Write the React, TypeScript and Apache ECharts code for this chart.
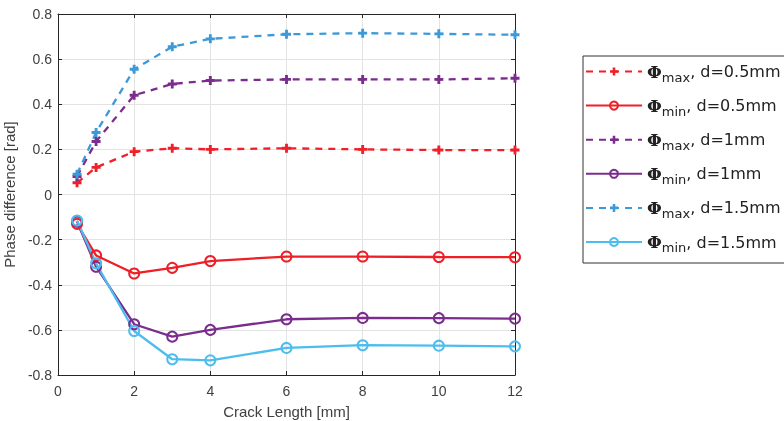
import React, { useEffect, useRef } from "react";
import * as echarts from "echarts";

const crackLength = [0.5, 1, 2, 3, 4, 6, 8, 10, 12];
const maxD05 = [0.052, 0.12, 0.19, 0.205, 0.2, 0.205, 0.2, 0.197, 0.197];
const minD05 = [-0.13, -0.27, -0.35, -0.325, -0.295, -0.275, -0.275, -0.277, -0.278];
const maxD1 = [0.08, 0.235, 0.44, 0.49, 0.505, 0.51, 0.51, 0.51, 0.515];
const minD1 = [-0.12, -0.32, -0.575, -0.63, -0.6, -0.553, -0.547, -0.548, -0.55];
const maxD15 = [0.09, 0.275, 0.555, 0.655, 0.69, 0.71, 0.715, 0.712, 0.708];
const minD15 = [-0.115, -0.305, -0.605, -0.73, -0.735, -0.68, -0.668, -0.67, -0.673];

const seriesNames = [
  "max|d=0.5mm",
  "min|d=0.5mm",
  "max|d=1mm",
  "min|d=1mm",
  "max|d=1.5mm",
  "min|d=1.5mm",
];
const seriesValues = [maxD05, minD05, maxD1, minD1, maxD15, minD15];
const seriesColors = ["#f0202a", "#ee1f26", "#7b2d8e", "#7b2d8e", "#3d9ad9", "#4dbdee"];

const PLUS = "path://M3.4,0H6.6V3.4H10V6.6H6.6V10H3.4V6.6H0V3.4H3.4Z";
const FONT = "'Liberation Sans', Arial, sans-serif";

export default function App() {
  const ref = useRef<HTMLDivElement>(null);
  useEffect(() => {
    if (!ref.current) return;
    const chart = echarts.init(ref.current, null, { renderer: "svg" });
    const series = seriesNames.map((name, i) => {
      const isMax = i % 2 === 0;
      return {
        name,
        type: "line",
        data: crackLength.map((x, j) => [x, seriesValues[i][j]]),
        symbol: isMax ? PLUS : "circle",
        symbolSize: isMax ? 9 : 10,
        showAllSymbol: true,
        lineStyle: { color: seriesColors[i], width: 2.3, type: isMax ? [7, 6] : "solid" },
        itemStyle: isMax
          ? { color: seriesColors[i] }
          : { color: "rgba(255,255,255,0)", borderColor: seriesColors[i], borderWidth: 2 },
        emphasis: { disabled: true },
      };
    });
    const axisCommon = {
      axisLine: { show: true, onZero: false, lineStyle: { color: "#262626", width: 1 } },
      axisTick: { show: true, inside: true, length: 4, lineStyle: { color: "#262626" } },
    };
    chart.setOption({
      animation: false,
      textStyle: { fontFamily: FONT },
      grid: { left: 58, top: 14, right: 269, bottom: 46, containLabel: false, outerBoundsMode: "none" },
      xAxis: [
        {
          type: "value",
          min: 0,
          max: 12,
          interval: 2,
          name: "Crack Length [mm]",
          nameLocation: "middle",
          nameGap: 29,
          nameTextStyle: { color: "#404040", fontSize: 15, fontFamily: FONT },
          axisLabel: { color: "#404040", fontSize: 14, margin: 9, fontFamily: FONT },
          splitLine: { show: true, lineStyle: { color: "#e3e3e3", width: 1 } },
          ...axisCommon,
        },
        {
          type: "value",
          position: "top",
          min: 0,
          max: 12,
          interval: 2,
          axisLabel: { show: false },
          splitLine: { show: false },
          ...axisCommon,
        },
      ],
      yAxis: [
        {
          type: "value",
          min: -0.8,
          max: 0.8,
          interval: 0.2,
          name: "Phase difference [rad]",
          nameLocation: "middle",
          nameGap: 41,
          nameMoveOverlap: false,
          nameTextStyle: { color: "#404040", fontSize: 15, fontFamily: FONT },
          axisLabel: { color: "#404040", fontSize: 14, margin: 6, fontFamily: FONT },
          splitLine: { show: true, lineStyle: { color: "#e3e3e3", width: 1 } },
          ...axisCommon,
        },
        {
          type: "value",
          position: "right",
          min: -0.8,
          max: 0.8,
          interval: 0.2,
          axisLabel: { show: false },
          splitLine: { show: false },
          ...axisCommon,
        },
      ],
      legend: {
        show: true,
        orient: "vertical",
        left: 583,
        top: 56,
        itemWidth: 56,
        itemHeight: 10,
        itemGap: 13.6,
        padding: [7, 30, 9, 2],
        borderColor: "#333",
        borderWidth: 1,
        backgroundColor: "#fff",
        data: seriesNames,
        formatter: (name: string) => {
          const [sub, rest] = name.split("|");
          return `{phi|Φ}{sub|${sub}}{txt|, ${rest}}`;
        },
        textStyle: {
          fontFamily: FONT,
          color: "#222",
          rich: {
            phi: { fontSize: 17, lineHeight: 24, fontFamily: "'DejaVu Serif', serif", fontWeight: "bold", color: "#222" },
            sub: { fontSize: 13, lineHeight: 12, verticalAlign: "bottom", color: "#222", fontFamily: "'DejaVu Sans', sans-serif" },
            txt: { fontSize: 16, lineHeight: 24, color: "#222", fontFamily: "'DejaVu Sans', sans-serif" },
          },
        },
      },
      series,
    });
    return () => chart.dispose();
  }, []);
  return <div ref={ref} style={{ position: "fixed", left: 0, top: 0, width: 784, height: 421 }} />;
}
